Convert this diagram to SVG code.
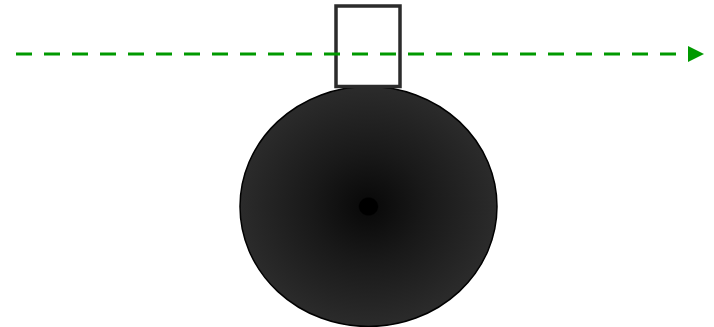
<svg xmlns="http://www.w3.org/2000/svg" width="714" height="327" viewBox="0 0 714 327">
  <style>
    .conn { stroke: #009900; stroke-width: 3; stroke-dasharray: 16 12; fill: none; }
    .box { fill: #ffffff; stroke: #2b2b2b; stroke-width: 3.5; }
    .ball { fill: url(#ballGrad); stroke: #000000; stroke-width: 1.5; }
  </style>
  <defs>
    <radialGradient id="ballGrad" cx="0.5" cy="0.5" r="0.5">
      <stop offset="0" stop-color="#000000"/>
      <stop offset="0.07" stop-color="#000000"/>
      <stop offset="0.08" stop-color="#0b0b0b"/>
      <stop offset="0.45" stop-color="#191919"/>
      <stop offset="1" stop-color="#2b2b2b"/>
    </radialGradient>
  </defs>
  <rect width="714" height="327" fill="#ffffff"/>
  <g id="ball">
    <ellipse class="ball" cx="368.5" cy="206.5" rx="128.5" ry="120"/>
  </g>
  <g id="box">
    <rect class="box" x="336" y="6" width="64" height="80.5"/>
  </g>
  <g id="connectors">
    <line class="conn" x1="16" y1="54" x2="676" y2="54"/>
    <polygon points="688,46 704,54 688,62" fill="#009900"/>
  </g>
</svg>
